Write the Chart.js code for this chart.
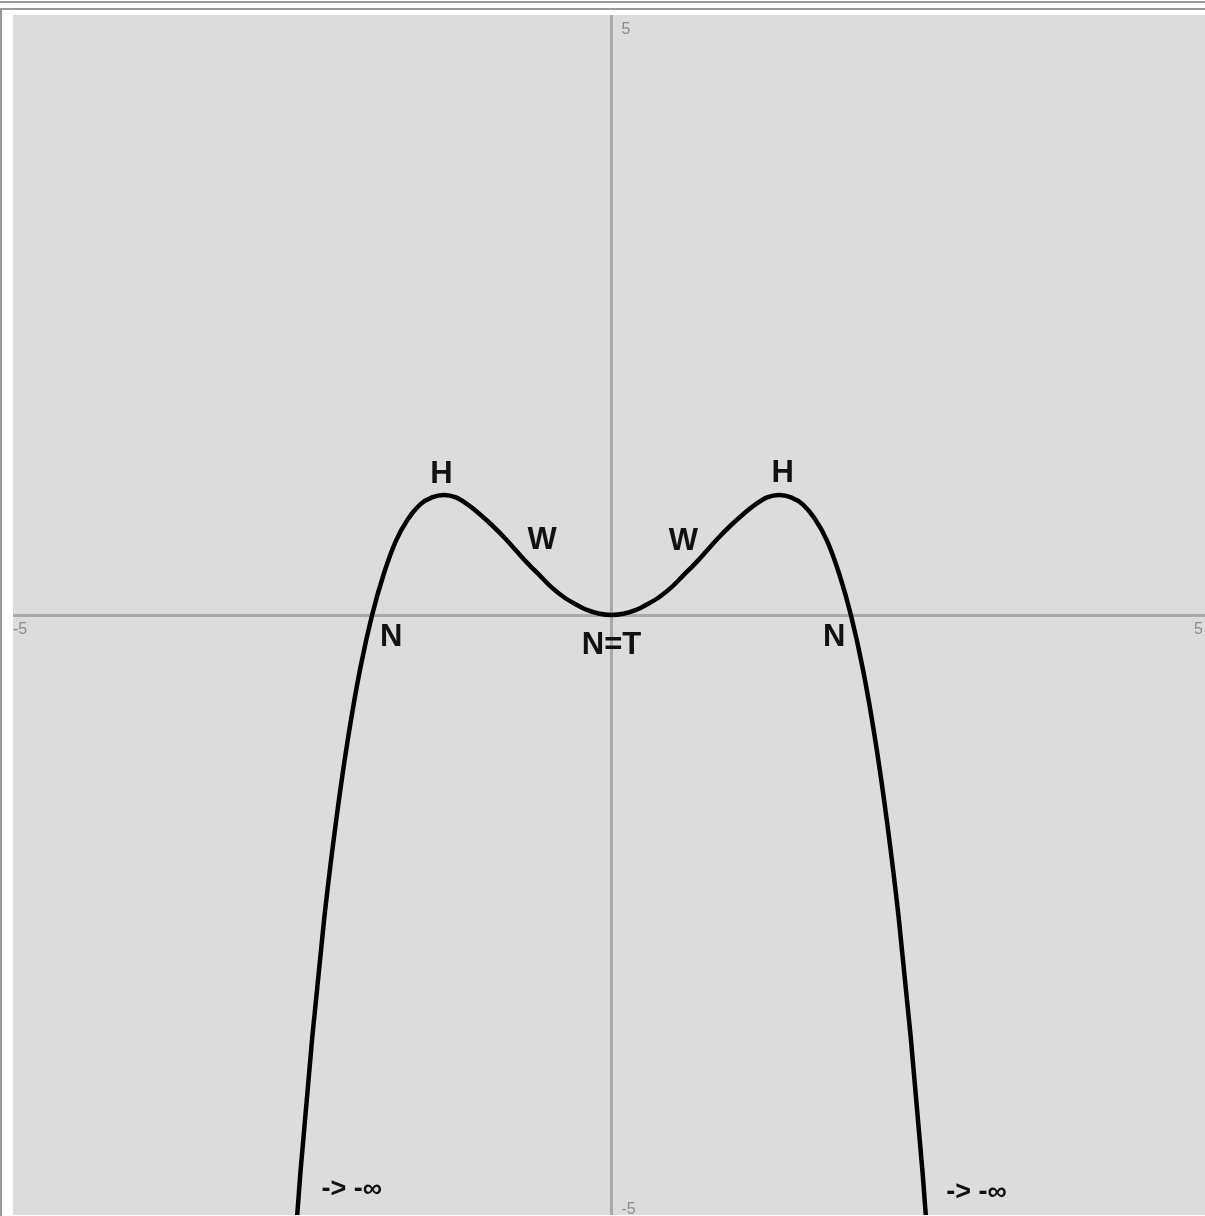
<!DOCTYPE html>
<html>
<head>
<meta charset="utf-8">
<script src="https://cdn.jsdelivr.net/npm/chart.js@4.4.1/dist/chart.umd.min.js"></script>
<style>
  html, body { margin: 0; padding: 0; background: #fff; overflow: hidden; width: 1205px; height: 1216px; }
  .line-top { position: absolute; left: 0; top: 1px; width: 1205px; height: 2px; background: #9a9a9a; }
  .line-top2 { position: absolute; left: 0; top: 8px; width: 1205px; height: 2px; background: #9a9a9a; }
  .line-left { position: absolute; left: 0; top: 8px; width: 2px; height: 1208px; background: #9a9a9a; }
  #wrap { position: absolute; left: 13px; top: 15px; width: 1197px; height: 1200px; background: #dcdcdc; }
</style>
</head>
<body>
<div class="line-top"></div>
<div class="line-top2"></div>
<div class="line-left"></div>
<div id="wrap"><canvas id="plot"></canvas></div>
<script>
// curve points (x, y)
const curveX = [-2.7, -2.6, -2.5, -2.4, -2.3, -2.2, -2.1, -2.0, -1.9, -1.8, -1.7, -1.6, -1.5, -1.4,
  -1.3, -1.2, -1.1, -1.0, -0.9, -0.8, -0.7, -0.6, -0.5, -0.4, -0.3, -0.2, -0.1, 0,
  0.1, 0.2, 0.3, 0.4, 0.5, 0.6, 0.7, 0.8, 0.9, 1.0, 1.1, 1.2, 1.3, 1.4,
  1.5, 1.6, 1.7, 1.8, 1.9, 2.0, 2.1, 2.2, 2.3, 2.4, 2.5, 2.6, 2.7];
const curveY = [-6.00, -4.66, -3.52, -2.53, -1.71, -1.02, -0.45, 0, 0.35, 0.62, 0.80, 0.92, 0.98, 1.00,
  0.98, 0.92, 0.84, 0.75, 0.65, 0.54, 0.43, 0.33, 0.23, 0.15, 0.09, 0.04, 0.01, 0,
  0.01, 0.04, 0.09, 0.15, 0.23, 0.33, 0.43, 0.54, 0.65, 0.75, 0.84, 0.92, 0.98, 1.00,
  0.98, 0.92, 0.80, 0.62, 0.35, 0, -0.45, -1.02, -1.71, -2.53, -3.52, -4.66, -6.00];

// annotations on the curve
const noteText = ['H', 'W', 'N', 'N=T', 'W', 'H', 'N', '-> -\u221E', '-> -\u221E'];
const noteX = [-1.42, -0.58, -1.84, 0, 0.60, 1.43, 1.86, -2.17, 3.05];
const noteY = [1.17, 0.62, -0.19, -0.25, 0.61, 1.18, -0.19, -4.79, -4.81];

const axisMin = -5;
const axisMax = 5;

const points = curveX.map((x, i) => ({ x: x, y: curveY[i] }));

const gridColor = (ctx) => ctx.tick && ctx.tick.value === 0 ? '#aaaaaa' : 'rgba(0,0,0,0)';

const notesPlugin = {
  id: 'notes',
  afterDatasetsDraw(chart) {
    const { ctx, scales } = chart;
    const sx = scales.x, sy = scales.y;
    const x0 = sx.getPixelForValue(0);
    const y0 = sy.getPixelForValue(0);
    ctx.save();

    // axis end values
    ctx.fillStyle = '#8c8c8c';
    ctx.font = '16px "Liberation Sans", Arial';
    ctx.textBaseline = 'top';
    ctx.textAlign = 'left';
    ctx.fillText(String(sy.max), x0 + 10, sy.top + 7);
    ctx.fillText(String(sy.min), x0 + 10, sy.bottom - 13);
    ctx.fillText(String(sx.min), sx.left, y0 + 7);
    ctx.textAlign = 'right';
    ctx.fillText(String(sx.max), sx.right - 7, y0 + 7);

    // labels on the curve
    ctx.fillStyle = '#111';
    ctx.textAlign = 'center';
    ctx.textBaseline = 'middle';
    noteText.forEach((t, i) => {
      ctx.font = t.indexOf('->') === 0 ? 'bold 27px "Liberation Sans", Arial' : 'bold 31px "Liberation Sans", Arial';
      ctx.fillText(t, sx.getPixelForValue(noteX[i]), sy.getPixelForValue(noteY[i]));
    });
    ctx.restore();
  }
};

new Chart(document.getElementById('plot'), {
  type: 'scatter',
  data: {
    datasets: [{
      data: points,
      showLine: true,
      borderColor: '#000',
      borderWidth: 4.5,
      pointRadius: 0,
      cubicInterpolationMode: 'monotone'
    }]
  },
  options: {
    responsive: true,
    maintainAspectRatio: false,
    animation: false,
    layout: { padding: 0 },
    plugins: {
      legend: { display: false },
      tooltip: { enabled: false }
    },
    scales: {
      x: {
        type: 'linear',
        min: axisMin,
        max: axisMax,
        ticks: { display: false, stepSize: 1 },
        grid: { drawTicks: false, color: gridColor, lineWidth: 3 },
        border: { display: false }
      },
      y: {
        type: 'linear',
        min: axisMin,
        max: axisMax,
        ticks: { display: false, stepSize: 1 },
        grid: { drawTicks: false, color: gridColor, lineWidth: 3 },
        border: { display: false }
      }
    }
  },
  plugins: [notesPlugin]
});
</script>
</body>
</html>
